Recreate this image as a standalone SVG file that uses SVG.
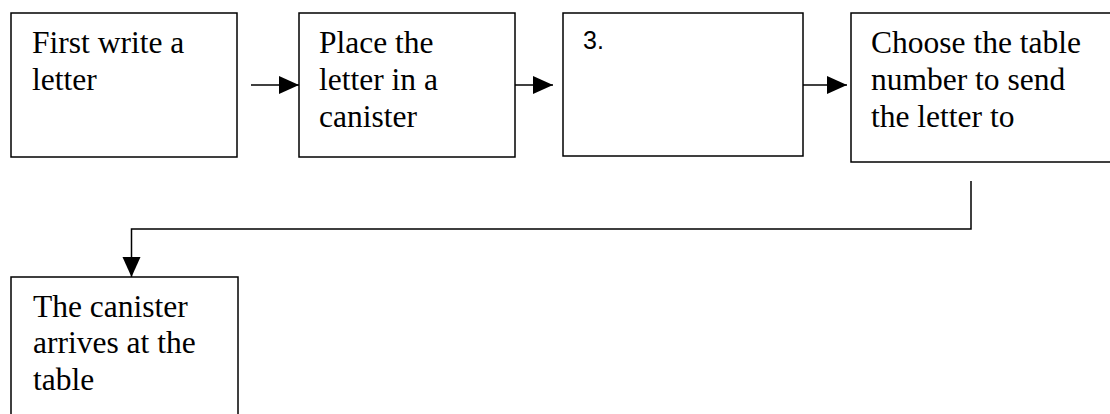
<svg xmlns="http://www.w3.org/2000/svg" width="1110" height="414" viewBox="0 0 1110 414">
<defs>
<style>
.box{fill:#fff;stroke:#000;stroke-width:1.5}
.t{font-family:"Liberation Serif","Times New Roman",serif;font-size:31.5px;fill:#000}
.s{font-family:"Liberation Sans",Arial,sans-serif;font-size:25px;fill:#000}
.c{fill:none;stroke:#000;stroke-width:1.5}
</style>
<marker id="ah" markerUnits="userSpaceOnUse" markerWidth="20" markerHeight="20" viewBox="0 0 20 20" refX="20" refY="10" orient="auto">
<path d="M0,1 L20,10 L0,19 Z" fill="#000"/>
</marker>
</defs>
<rect width="1110" height="414" fill="#fff"/>
<g id="node1">
<rect class="box" x="11" y="13" width="226" height="144"/>
<text class="t" x="32" y="53">First write a</text>
<text class="t" x="32" y="90">letter</text>
</g>
<g id="node2">
<rect class="box" x="299" y="13" width="216" height="144"/>
<text class="t" x="319" y="53">Place the</text>
<text class="t" x="319" y="90">letter in a</text>
<text class="t" x="319" y="127">canister</text>
</g>
<g id="node3">
<rect class="box" x="563" y="13" width="240" height="143"/>
<text class="s" x="583" y="49">3.</text>
</g>
<g id="node4">
<rect class="box" x="851" y="13" width="280" height="149"/>
<text class="t" x="871" y="53">Choose the table</text>
<text class="t" x="871" y="90">number to send</text>
<text class="t" x="871" y="127">the letter to</text>
</g>
<g id="node5">
<rect class="box" x="11" y="277" width="227" height="160"/>
<text class="t" x="33" y="317">The canister</text>
<text class="t" x="33" y="353">arrives at the</text>
<text class="t" x="33" y="390">table</text>
</g>
<g id="connectors">
<line class="c" x1="251" y1="85" x2="299" y2="85" marker-end="url(#ah)"/>
<line class="c" x1="515" y1="85" x2="553" y2="85" marker-end="url(#ah)"/>
<line class="c" x1="803" y1="85" x2="847" y2="85" marker-end="url(#ah)"/>
<polyline class="c" points="971,181 971,229 131.5,229 131.5,277" marker-end="url(#ah)"/>
</g>
</svg>
